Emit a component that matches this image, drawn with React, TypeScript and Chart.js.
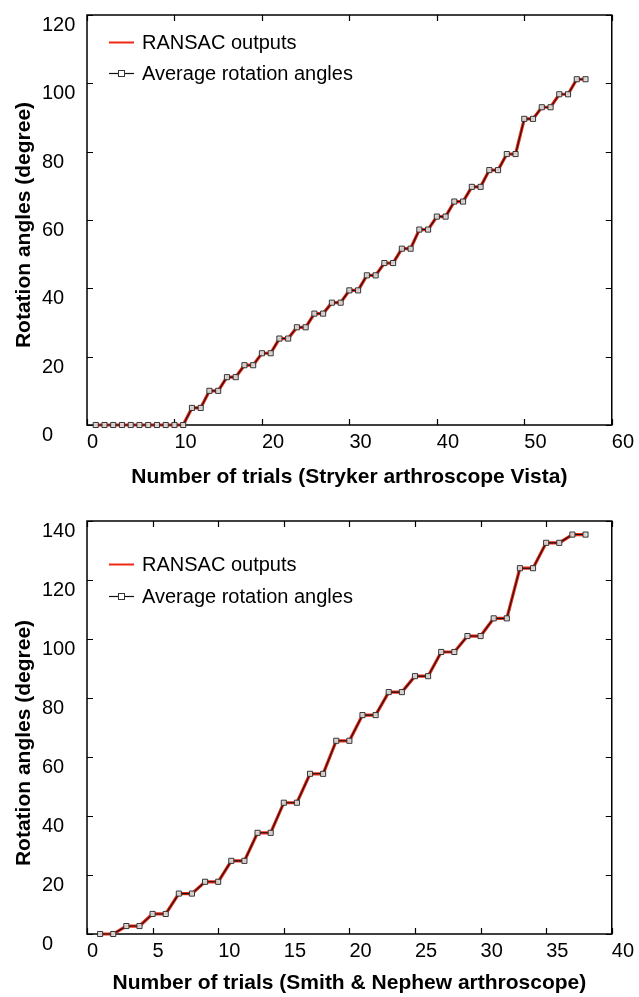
import React, { useEffect, useRef } from "react";
import { Chart, registerables } from "chart.js";

Chart.register(...registerables);

// ---------- data ----------
const topTrials = [
  1, 2, 3, 4, 5, 6, 7, 8, 9, 10, 11, 12, 13, 14, 15, 16, 17, 18, 19, 20,
  21, 22, 23, 24, 25, 26, 27, 28, 29, 30, 31, 32, 33, 34, 35, 36, 37, 38, 39, 40,
  41, 42, 43, 44, 45, 46, 47, 48, 49, 50, 51, 52, 53, 54, 55, 56, 57,
];
const topAverage = [
  0, 0, 0, 0, 0, 0, 0, 0, 0, 0, 0, 5, 5, 10, 10, 14, 14, 17.5, 17.5, 21,
  21, 25.3, 25.3, 28.6, 28.6, 32.6, 32.6, 35.8, 35.8, 39.4, 39.4, 43.8, 43.8, 47.4, 47.4, 51.6, 51.6, 57.2, 57.2, 61,
  61, 65.4, 65.4, 69.7, 69.7, 74.6, 74.6, 79.3, 79.3, 89.6, 89.6, 93, 93, 96.8, 96.8, 101.2, 101.2,
];
const topRansac = [
  0, 0, 0, 0, 0, 0, 0, 0, 0, 0, 0, 5, 5, 10, 10, 14, 14, 17.5, 17.5, 21,
  21, 25.3, 25.3, 28.6, 28.6, 32.6, 32.6, 35.8, 35.8, 39.4, 39.4, 43.8, 43.8, 47.4, 47.4, 51.6, 51.6, 57.2, 57.2, 61,
  61, 65.4, 65.4, 69.7, 69.7, 74.6, 74.6, 79.3, 79.3, 89.6, 89.6, 93, 93, 96.8, 96.8, 101.2, 101.2,
];
const topXTicks = [0, 10, 20, 30, 40, 50, 60];
const topYTicks = [0, 20, 40, 60, 80, 100, 120];

const bottomTrials = [
  1, 2, 3, 4, 5, 6, 7, 8, 9, 10, 11, 12, 13, 14, 15, 16, 17, 18, 19, 20,
  21, 22, 23, 24, 25, 26, 27, 28, 29, 30, 31, 32, 33, 34, 35, 36, 37, 38,
];
const bottomAverage = [
  0, 0, 2.7, 2.7, 6.8, 6.8, 13.7, 13.7, 17.7, 17.7, 24.8, 24.8, 34.3, 34.3, 44.5, 44.5, 54.3, 54.3, 65.5, 65.5,
  74.2, 74.2, 82, 82, 87.4, 87.4, 95.6, 95.6, 101, 101, 107, 107, 124, 124, 132.6, 132.6, 135.4, 135.4,
];
const bottomRansac = [
  0, 0, 2.7, 2.7, 6.8, 6.8, 13.7, 13.7, 17.7, 17.7, 24.8, 24.8, 34.3, 34.3, 44.5, 44.5, 54.3, 54.3, 65.5, 65.5,
  74.2, 74.2, 82, 82, 87.4, 87.4, 95.6, 95.6, 101, 101, 107, 107, 124, 124, 132.6, 132.6, 135.4, 135.4,
];
const bottomXTicks = [0, 5, 10, 15, 20, 25, 30, 35, 40];
const bottomYTicks = [0, 20, 40, 60, 80, 100, 120, 140];

const seriesLabels = ["RANSAC outputs", "Average rotation angles"];
const yAxisTitle = "Rotation angles (degree)";
const topXAxisTitle = "Number of trials (Stryker arthroscope Vista)";
const bottomXAxisTitle = "Number of trials (Smith & Nephew arthroscope)";

// ---------- styles ----------
const FONT = "'Liberation Sans', Arial, Helvetica, sans-serif";
const RED = "rgb(238, 40, 22)";
const BLACK = "#111111";

const decorPlugin = {
  id: "decor",
  beforeDatasetsDraw(chart: any) {
    const { ctx, chartArea: a, scales } = chart;
    ctx.save();
    ctx.strokeStyle = "#000";
    ctx.lineWidth = 1.5;
    ctx.strokeRect(a.left, a.top, a.right - a.left, a.bottom - a.top);
    ctx.lineWidth = 1.2;
    const L = 6;
    ctx.beginPath();
    scales.x.ticks.forEach((t: any) => {
      const px = Math.round(scales.x.getPixelForValue(t.value)) + 0.5;
      ctx.moveTo(px, a.bottom);
      ctx.lineTo(px, a.bottom - L);
      ctx.moveTo(px, a.top);
      ctx.lineTo(px, a.top + L);
    });
    scales.y.ticks.forEach((t: any) => {
      const py = Math.round(scales.y.getPixelForValue(t.value)) + 0.5;
      ctx.moveTo(a.left, py);
      ctx.lineTo(a.left + L, py);
      ctx.moveTo(a.right, py);
      ctx.lineTo(a.right - L, py);
    });
    ctx.stroke();
    ctx.restore();
  },
  afterDraw(chart: any, _args: any, opts: any) {
    const { ctx } = chart;
    ctx.save();
    // y axis title
    ctx.fillStyle = "#000";
    ctx.font = `bold 21px ${FONT}`;
    ctx.textAlign = "center";
    ctx.textBaseline = "middle";
    ctx.translate(opts.titleX, opts.titleY);
    ctx.rotate(-Math.PI / 2);
    ctx.fillText(opts.title, 0, 0);
    ctx.restore();

    // legend
    ctx.save();
    const ds = chart.data.datasets;
    const x1 = opts.legendX1;
    const x2 = opts.legendX2;
    ds.forEach((d: any, i: number) => {
      const y = opts.legendY[i];
      ctx.strokeStyle = d.borderColor;
      ctx.lineWidth = i === 0 ? 2 : 1.2;
      ctx.beginPath();
      ctx.moveTo(x1, y + 0.5);
      ctx.lineTo(x2, y + 0.5);
      ctx.stroke();
      if (d.pointRadius > 0) {
        const s = 6;
        const cx = (x1 + x2) / 2;
        ctx.fillStyle = "#ffffff";
        ctx.fillRect(cx - s / 2, y - s / 2 + 0.5, s, s);
        ctx.strokeStyle = d.pointBorderColor;
        ctx.lineWidth = 1;
        ctx.strokeRect(cx - s / 2, y - s / 2 + 0.5, s, s);
      }
      ctx.fillStyle = "#000";
      ctx.font = `20px ${FONT}`;
      ctx.textAlign = "left";
      ctx.textBaseline = "middle";
      ctx.fillText(d.label, opts.legendTextX, y + 1);
    });
    ctx.restore();
  },
};

type PanelProps = {
  height: number;
  top: number;
  trials: number[];
  ransac: number[];
  average: number[];
  xTicks: number[];
  yTicks: number[];
  xTitle: string;
  padTop: number;
  xAxisHeight: number;
  xTitlePadBottom: number;
  yTitleY: number;
  legendY: number[];
};

function Panel(p: PanelProps) {
  const ref = useRef<HTMLCanvasElement | null>(null);
  useEffect(() => {
    if (!ref.current) return;
    const xMin = p.xTicks[0];
    const xMax = p.xTicks[p.xTicks.length - 1];
    const yMin = p.yTicks[0];
    const yMax = p.yTicks[p.yTicks.length - 1];
    const chart = new Chart(ref.current, {
      type: "line",
      data: {
        datasets: [
          {
            label: seriesLabels[0],
            data: p.trials.map((x, i) => ({ x, y: p.ransac[i] })),
            borderColor: RED,
            backgroundColor: RED,
            borderWidth: 3.2,
            pointRadius: 0,
            pointHoverRadius: 0,
            tension: 0,
            fill: false,
            order: 2,
            clip: false,
          },
          {
            label: seriesLabels[1],
            data: p.trials.map((x, i) => ({ x, y: p.average[i] })),
            borderColor: BLACK,
            backgroundColor: BLACK,
            borderWidth: 1.1,
            pointStyle: "rect",
            pointRadius: 3.6,
            pointBorderWidth: 1,
            pointBorderColor: "#333333",
            pointBackgroundColor: "rgba(225,225,225,0.9)",
            tension: 0,
            fill: false,
            order: 1,
            clip: false,
          },
        ],
      },
      options: {
        animation: false,
        responsive: false,
        maintainAspectRatio: false,
        events: [],
        layout: { padding: { left: 42, right: 22, top: p.padTop, bottom: 0 } },
        plugins: {
          legend: { display: false },
          tooltip: { enabled: false },
          decor: {
            title: yAxisTitle,
            titleX: 24,
            titleY: p.yTitleY,
            legendX1: 109,
            legendX2: 134,
            legendTextX: 142,
            legendY: p.legendY,
          },
        } as any,
        scales: {
          x: {
            type: "linear",
            min: xMin,
            max: xMax,
            afterBuildTicks: (s: any) => {
              s.ticks = p.xTicks.map((v) => ({ value: v }));
            },
            afterFit: (s: any) => {
              s.height = p.xAxisHeight;
            },
            grid: { display: false, drawTicks: false },
            border: { display: false },
            ticks: {
              autoSkip: false,
              maxRotation: 0,
              align: "start",
              padding: 5,
              color: "#000",
              font: { family: FONT, size: 20 },
            },
            title: {
              display: true,
              text: p.xTitle,
              color: "#000",
              font: { family: FONT, size: 21, weight: "bold" },
              padding: { top: 0, bottom: p.xTitlePadBottom },
            },
          },
          y: {
            type: "linear",
            min: yMin,
            max: yMax,
            afterBuildTicks: (s: any) => {
              s.ticks = p.yTicks.map((v) => ({ value: v }));
            },
            afterFit: (s: any) => {
              s.width = 45;
            },
            grid: { display: false, drawTicks: false },
            border: { display: false },
            ticks: {
              autoSkip: false,
              crossAlign: "far",
              labelOffset: 10.5,
              color: "#000",
              font: { family: FONT, size: 20 },
            },
          },
        },
      } as any,
      plugins: [decorPlugin],
    });
    return () => chart.destroy();
  }, []);
  return (
    <div style={{ position: "absolute", left: 0, top: p.top, width: 639, height: p.height }}>
      <canvas ref={ref} width={639} height={p.height} style={{ display: "block" }} />
    </div>
  );
}

export default function App() {
  return (
    <div style={{ position: "absolute", left: 0, top: 0, width: 639, height: 997, background: "#fff" }}>
      <Panel
        top={0}
        height={500}
        trials={topTrials}
        ransac={topRansac}
        average={topAverage}
        xTicks={topXTicks}
        yTicks={topYTicks}
        xTitle={topXAxisTitle}
        padTop={13}
        xAxisHeight={75}
        xTitlePadBottom={10}
        yTitleY={225}
        legendY={[42, 73]}
      />
      <Panel
        top={500}
        height={497}
        trials={bottomTrials}
        ransac={bottomRansac}
        average={bottomAverage}
        xTicks={bottomXTicks}
        yTicks={bottomYTicks}
        xTitle={bottomXAxisTitle}
        padTop={21}
        xAxisHeight={63}
        xTitlePadBottom={1}
        yTitleY={243}
        legendY={[64, 96]}
      />
    </div>
  );
}
